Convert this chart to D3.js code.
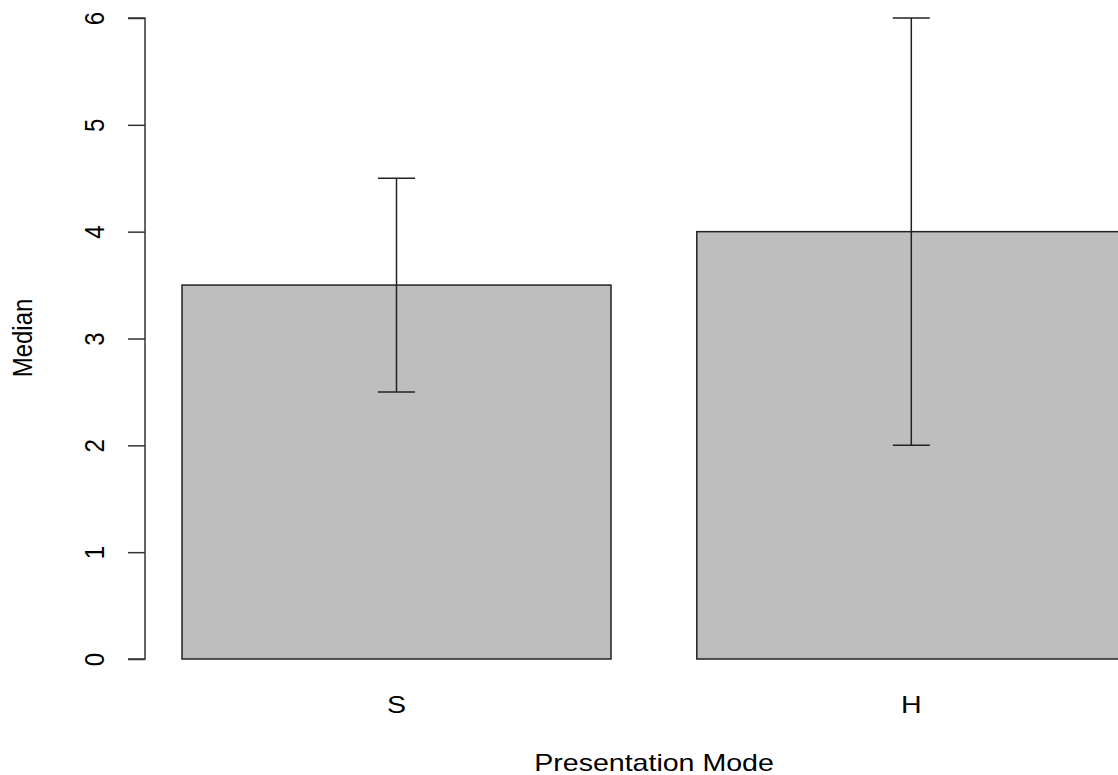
<!DOCTYPE html>
<html>
<head>
<meta charset="utf-8">
<script src="https://cdn.jsdelivr.net/npm/d3@7"></script>
<style>
  body { margin: 0; background: #fff; }
  text { font-family: "Liberation Sans", Arial, sans-serif; fill: #000; }
</style>
</head>
<body>
<svg id="chart" width="1118" height="775"></svg>
<script>
var modes = ["S", "H"];
var medians = [3.5, 4];
var lower = [2.5, 2];
var upper = [4.5, 6];
var yTicks = [0, 1, 2, 3, 4, 5, 6];

var svg = d3.select('#chart');
var fontSize = 24, stretch = 1.19;

// R barplot layout: space 0.2, width 1
var x = d3.scaleLinear().domain([0, 2.4]).range([96.2, 1125.8]);
var y = d3.scaleLinear().domain([0, 6]).range([659, 18]);
var left = function (i) { return 0.2 + i * 1.2; };
var mid = function (i) { return left(i) + 0.5; };

// bars
svg.selectAll(".bar")
    .data(medians)
    .enter()
    .append("rect")
    .attr("class", "bar")
    .attr("x", function (d, i) { return x(left(i)); })
    .attr("y", function (d) { return y(d); })
    .attr("width", function (d, i) { return x(left(i) + 1) - x(left(i)); })
    .attr("height", function (d) { return y(0) - y(d); })
    .attr("fill", "#bebebe")
    .attr("stroke", "#222")
    .attr("stroke-width", 1.5);

// error bars
var errs = svg.selectAll(".err")
    .data(modes)
    .enter()
    .append("g")
    .attr("class", "err")
    .attr("stroke", "#222")
    .attr("stroke-width", 1.5);

errs.append("line")
    .attr("x1", function (d, i) { return x(mid(i)); })
    .attr("x2", function (d, i) { return x(mid(i)); })
    .attr("y1", function (d, i) { return y(lower[i]); })
    .attr("y2", function (d, i) { return y(upper[i]); });

errs.append("line")
    .attr("x1", function (d, i) { return x(mid(i)) - 18.5; })
    .attr("x2", function (d, i) { return x(mid(i)) + 18.5; })
    .attr("y1", function (d, i) { return y(upper[i]); })
    .attr("y2", function (d, i) { return y(upper[i]); });

errs.append("line")
    .attr("x1", function (d, i) { return x(mid(i)) - 18.5; })
    .attr("x2", function (d, i) { return x(mid(i)) + 18.5; })
    .attr("y1", function (d, i) { return y(lower[i]); })
    .attr("y2", function (d, i) { return y(lower[i]); });

// y axis
var yAxis = d3.axisLeft(y)
    .tickValues(yTicks)
    .tickSize(17)
    .tickFormat(d3.format("d"));

var ag = svg.append("g")
    .attr("transform", "translate(145,0)")
    .call(yAxis);
ag.select(".domain")
    .attr("d", "M-17," + y(0) + "H0V" + y(6) + "H-17")
    .attr("stroke", "#333")
    .attr("stroke-width", 1.5);
ag.selectAll(".tick line").attr("stroke", "#333").attr("stroke-width", 1.5);
ag.selectAll(".tick text")
    .attr("x", null).attr("dy", null).attr("dx", null)
    .attr("transform", "translate(-41,0) rotate(-90) scale(1," + stretch + ")")
    .attr("text-anchor", "middle")
    .style("font-size", fontSize + "px")
    .style("font-family", "Liberation Sans, Arial, sans-serif")
    .attr("fill", "#000");

// category labels
svg.selectAll(".cat")
    .data(modes)
    .enter()
    .append("text")
    .attr("class", "cat")
    .attr("transform", function (d, i) { return "translate(" + x(mid(i)) + ",713) scale(" + stretch + ",1)"; })
    .attr("text-anchor", "middle")
    .style("font-size", fontSize + "px")
    .text(function (d) { return d; });

// axis titles
svg.append("text")
    .attr("transform", "translate(654,771) scale(" + stretch + ",1)")
    .attr("text-anchor", "middle")
    .style("font-size", fontSize + "px")
    .text("Presentation Mode");

svg.append("text")
    .attr("transform", "translate(32,338) rotate(-90) scale(1," + stretch + ")")
    .attr("text-anchor", "middle")
    .style("font-size", fontSize + "px")
    .text("Median");
</script>
</body>
</html>
